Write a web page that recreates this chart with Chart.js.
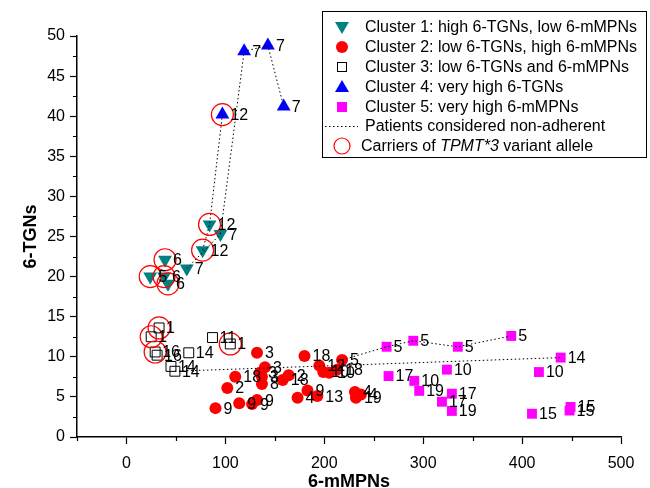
<!DOCTYPE html>
<html>
<head>
<meta charset="utf-8">
<script src="https://cdn.jsdelivr.net/npm/chart.js@4.4.0/dist/chart.umd.min.js"></script>
<style>
  html, body { margin: 0; padding: 0; background: #fff; }
  #wrap { width: 650px; height: 488px; }
</style>
</head>
<body>
<div id="wrap"><canvas id="chart" width="650" height="488"></canvas></div>
<script>
const FONT = '"Liberation Sans", Arial, Helvetica, sans-serif';

// Cluster 1: high 6-TGNs, low 6-mMPNs
const c1X = [84, 95, 77, 61, 39, 24, 38, 42];
const c1Y = [26.5, 25.3, 23.3, 21.0, 22.1, 20.0, 20.0, 19.1];
const c1Id = ['12', '7', '12', '7', '6', '5', '6', '6'];

// Cluster 2: low 6-TGNs, high 6-mMPNs
const c2X = [132, 140, 135, 110, 137, 137, 102, 90, 114, 127, 132, 158, 164, 180, 173, 183, 193, 195, 199, 205, 218, 213, 231, 232, 237];
const c2Y = [10.5, 8.7, 8.0, 7.5, 7.5, 6.6, 6.1, 3.6, 4.2, 4.1, 4.6, 7.1, 7.7, 10.1, 4.9, 5.8, 5.1, 8.9, 8.1, 8.0, 9.6, 8.4, 5.6, 4.9, 5.3];
const c2Id = ['3', '3', '3', '18', '3', '8', '2', '9', '9', '9', '9', '18', '2', '18', '4', '9', '13', '12', '10', '10', '5', '18', '4', '19', '4'];

// Cluster 3: low 6-TGNs and 6-mMPNs
const c3X = [33, 25, 29, 31, 63, 45, 49, 87, 105];
const c3Y = [13.6, 12.5, 10.6, 10.2, 10.5, 8.8, 8.2, 12.4, 11.6];
const c3Id = ['1', '1', '16', '16', '14', '14', '14', '11', '1'];

// Cluster 4: very high 6-TGNs
const c4X = [119, 143, 159, 97];
const c4Y = [48.1, 48.8, 41.2, 40.2];
const c4Id = ['7', '7', '7', '12'];

// Cluster 5: very high 6-mMPNs
const c5X = [263, 290, 335, 389, 439, 265, 291, 324, 417, 296, 329, 319, 329, 410, 449, 448];
const c5Y = [11.25, 12.0, 11.25, 12.6, 9.9, 7.6, 7.0, 8.4, 8.1, 5.75, 5.4, 4.4, 3.25, 2.9, 3.75, 3.3];
const c5Id = ['5', '5', '5', '5', '14', '17', '10', '10', '10', '19', '17', '17', '19', '15', '15', '15'];

// non-adherent patients (dotted paths)
const p7X = [61, 95, 119, 143, 159];
const p7Y = [21.0, 25.3, 48.1, 48.8, 41.2];
const p12X = [77, 84, 97];
const p12Y = [23.3, 26.5, 40.2];
const p14X = [49, 439];
const p14Y = [8.2, 9.9];
const p5X = [218, 263, 290, 335, 389];
const p5Y = [9.6, 11.25, 12.0, 11.25, 12.6];

// carriers of TPMT*3
const carrierX = [97, 84, 77, 39, 24, 38, 42, 33, 25, 29, 105];
const carrierY = [40.2, 26.5, 23.3, 22.1, 20.0, 20.0, 19.1, 13.6, 12.5, 10.6, 11.6];

const xTicksMinor = 50, xTicksMajor = 100;
const yTicksMinor = 2.5, yTicksMajor = 5;

function pts(xs, ys) {
    return xs.map(function (x, i) { return { x: x, y: ys[i] }; });
}

function dotted(xs, ys, label) {
    return {
        label: label,
        data: pts(xs, ys),
        showLine: true,
        borderColor: '#000',
        borderWidth: 1,
        borderDash: [1.5, 2.5],
        pointRadius: 0,
        fill: false,
        order: 1,
    };
}

const datasets = [
    {
        label: 'Cluster 1: high 6-TGNs, low 6-mMPNs',
        data: pts(c1X, c1Y), ids: c1Id, labelDx: 8,
        pointStyle: 'triangle', rotation: 180, pointRadius: 8,
        backgroundColor: '#008080', borderColor: '#008080', borderWidth: 0, order: 5,
    },
    {
        label: 'Cluster 2: low 6-TGNs, high 6-mMPNs',
        data: pts(c2X, c2Y), ids: c2Id, labelDx: 8,
        pointStyle: 'circle', pointRadius: 6,
        backgroundColor: '#ff0000', borderColor: '#ff0000', borderWidth: 0, order: 5,
    },
    {
        label: 'Cluster 3: low 6-TGNs and 6-mMPNs',
        data: pts(c3X, c3Y), ids: c3Id, labelDx: 7,
        pointStyle: 'rect', pointRadius: 7,
        backgroundColor: 'rgba(0,0,0,0)', borderColor: '#000', borderWidth: 1, order: 5,
    },
    {
        label: 'Cluster 4: very high 6-TGNs',
        data: pts(c4X, c4Y), ids: c4Id, labelDx: 8,
        pointStyle: 'triangle', pointRadius: 8,
        backgroundColor: '#0000ff', borderColor: '#0000ff', borderWidth: 0, order: 5,
    },
    {
        label: 'Cluster 5: very high 6-mMPNs',
        data: pts(c5X, c5Y), ids: c5Id, labelDx: 7,
        pointStyle: 'rect', pointRadius: 7,
        backgroundColor: '#ff00ff', borderColor: '#ff00ff', borderWidth: 0, order: 5,
    },
    dotted(p7X, p7Y, 'Patients considered non-adherent'),
    dotted(p12X, p12Y, ''),
    dotted(p14X, p14Y, ''),
    dotted(p5X, p5Y, ''),
    {
        label: 'Carriers of TPMT*3 variant allele',
        data: pts(carrierX, carrierY),
        pointStyle: 'circle', pointRadius: 11,
        backgroundColor: 'rgba(0,0,0,0)', borderColor: '#ff0000', borderWidth: 1.2, order: 0,
    },
];

// patient number next to each marker
const pointLabels = {
    id: 'pointLabels',
    afterDatasetsDraw(chart) {
        const ctx = chart.ctx;
        ctx.save();
        ctx.font = '16px ' + FONT;
        ctx.fillStyle = '#000';
        ctx.textBaseline = 'middle';
        chart.data.datasets.forEach(function (ds, i) {
            if (!ds.ids) return;
            chart.getDatasetMeta(i).data.forEach(function (pt, j) {
                ctx.fillText(ds.ids[j], pt.x + ds.labelDx, pt.y + 1);
            });
        });
        ctx.restore();
    }
};

// short minor ticks
const minorTicks = {
    id: 'minorTicks',
    afterDraw(chart) {
        const ctx = chart.ctx;
        const xs = chart.scales.x, ys = chart.scales.y;
        ctx.save();
        ctx.strokeStyle = '#000';
        ctx.lineWidth = 1.2;
        ctx.beginPath();
        for (let v = xs.min; v <= xs.max; v += xTicksMinor) {
            if (v % xTicksMajor === 0) continue;
            const px = Math.round(xs.getPixelForValue(v)) + 0.5;
            ctx.moveTo(px, xs.top);
            ctx.lineTo(px, xs.top + 4);
        }
        for (let v = ys.min; v <= ys.max; v += yTicksMinor) {
            if (v % yTicksMajor === 0) continue;
            const py = Math.round(ys.getPixelForValue(v)) + 0.5;
            ctx.moveTo(ys.right, py);
            ctx.lineTo(ys.right - 4, py);
        }
        ctx.stroke();
        ctx.restore();
    }
};

// boxed legend in the upper right
const boxLegend = {
    id: 'boxLegend',
    afterDraw(chart) {
        const ctx = chart.ctx;
        const ds = chart.data.datasets;
        const left = 322, top = 11, right = 646, bottom = 157;
        const mx = 342, tx = 365;
        const rows = [27, 47, 67, 87, 107, 126, 146];
        ctx.save();
        ctx.fillStyle = '#fff';
        ctx.fillRect(left, top, right - left, bottom - top);
        ctx.strokeStyle = '#000';
        ctx.lineWidth = 1;
        ctx.strokeRect(left + 0.5, top + 0.5, right - left, bottom - top);

        // markers
        ctx.fillStyle = '#008080';
        ctx.beginPath();
        ctx.moveTo(mx - 7, rows[0] - 5); ctx.lineTo(mx + 7, rows[0] - 5); ctx.lineTo(mx, rows[0] + 7);
        ctx.closePath(); ctx.fill();

        ctx.fillStyle = '#ff0000';
        ctx.beginPath(); ctx.arc(mx, rows[1], 6, 0, Math.PI * 2); ctx.fill();

        ctx.strokeStyle = '#000';
        ctx.strokeRect(mx - 4.5, rows[2] - 4.5, 9, 9);

        ctx.fillStyle = '#0000ff';
        ctx.beginPath();
        ctx.moveTo(mx - 7, rows[3] + 5); ctx.lineTo(mx + 7, rows[3] + 5); ctx.lineTo(mx, rows[3] - 7);
        ctx.closePath(); ctx.fill();

        ctx.fillStyle = '#ff00ff';
        ctx.fillRect(mx - 5, rows[4] - 5, 10, 10);

        ctx.strokeStyle = '#000';
        ctx.setLineDash([1.5, 2.5]);
        ctx.beginPath(); ctx.moveTo(325, rows[5] + 0.5); ctx.lineTo(358, rows[5] + 0.5); ctx.stroke();
        ctx.setLineDash([]);

        ctx.strokeStyle = '#ff0000';
        ctx.lineWidth = 1.2;
        ctx.beginPath(); ctx.arc(mx, rows[6], 8, 0, Math.PI * 2); ctx.stroke();

        // texts
        ctx.fillStyle = '#000';
        ctx.textBaseline = 'middle';
        ctx.font = '16px ' + FONT;
        for (let i = 0; i < 6; i++) {
            ctx.fillText(ds[i].label, tx, rows[i] + 1);
        }
        let x = tx - 4;
        const y = rows[6] + 1;
        ctx.fillText('Carriers of ', x, y);
        x += ctx.measureText('Carriers of ').width;
        ctx.font = 'italic 16px ' + FONT;
        ctx.fillText('TPMT*3', x, y);
        x += ctx.measureText('TPMT*3').width;
        ctx.font = '16px ' + FONT;
        ctx.fillText(' variant allele', x, y);
        ctx.restore();
    }
};

new Chart(document.getElementById('chart'), {
    type: 'scatter',
    data: { datasets: datasets },
    plugins: [pointLabels, minorTicks, boxLegend],
    options: {
        responsive: false,
        animation: false,
        layout: { padding: { top: 36, right: 29, left: 0, bottom: 0 } },
        plugins: {
            legend: { display: false },
            tooltip: { enabled: false },
        },
        scales: {
            x: {
                type: 'linear',
                min: -50,
                max: 500,
                afterFit: function (s) { s.height = 51; },
                border: { display: true, color: '#000', width: 1.5 },
                grid: {
                    drawOnChartArea: false,
                    tickLength: 7,
                    tickWidth: 1.2,
                    tickColor: function (c) {
                        return c.tick && c.tick.value % xTicksMajor === 0 ? '#000' : 'rgba(0,0,0,0)';
                    },
                },
                ticks: {
                    stepSize: xTicksMinor,
                    autoSkip: false,
                    maxRotation: 0,
                    color: '#000',
                    padding: 10,
                    font: { family: FONT, size: 16 },
                    callback: function (v) { return v % xTicksMajor === 0 ? v : ''; },
                },
                title: {
                    display: true,
                    text: '6-mMPNs',
                    color: '#000',
                    font: { family: FONT, size: 18, weight: 'bold' },
                    padding: { top: 0, bottom: -5 },
                },
            },
            y: {
                type: 'linear',
                min: 0,
                max: 50,
                afterFit: function (s) { s.width = 77; },
                border: { display: true, color: '#000', width: 1.5 },
                grid: {
                    drawOnChartArea: false,
                    tickLength: 7,
                    tickWidth: 1.2,
                    tickColor: function (c) {
                        return c.tick && c.tick.value % yTicksMajor === 0 ? '#000' : 'rgba(0,0,0,0)';
                    },
                },
                ticks: {
                    stepSize: yTicksMinor,
                    autoSkip: false,
                    color: '#000',
                    padding: 5,
                    font: { family: FONT, size: 16 },
                    callback: function (v) { return v % yTicksMajor === 0 ? v : ''; },
                },
                title: {
                    display: true,
                    text: '6-TGNs',
                    color: '#000',
                    font: { family: FONT, size: 18, weight: 'bold' },
                    padding: { top: 20, bottom: 0 },
                },
            },
        },
    },
});
</script>
</body>
</html>
